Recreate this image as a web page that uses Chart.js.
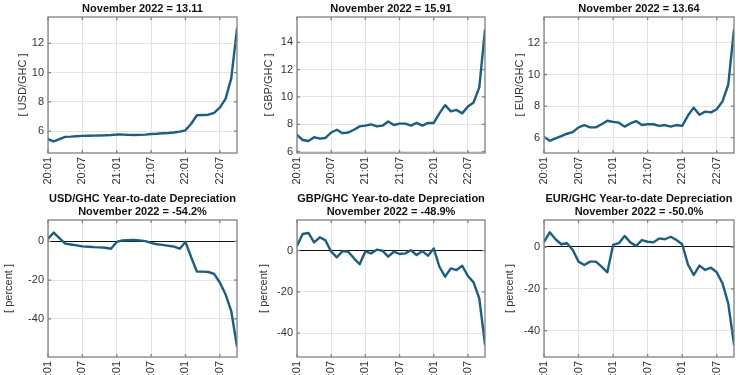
<!DOCTYPE html>
<html>
<head>
<meta charset="utf-8">
<script src="https://cdn.jsdelivr.net/npm/chart.js@4.4.0/dist/chart.umd.min.js"></script>
<style>
  html, body { margin: 0; padding: 0; background: #fff; width: 750px; height: 375px; overflow: hidden; }
  canvas { position: absolute; }
</style>
</head>
<body>
<script>
// monthly observations, Jan 2020 .. Oct 2022
const months = ['20:01','20:02','20:03','20:04','20:05','20:06','20:07','20:08','20:09','20:10','20:11','20:12',
                '21:01','21:02','21:03','21:04','21:05','21:06','21:07','21:08','21:09','21:10','21:11','21:12',
                '22:01','22:02','22:03','22:04','22:05','22:06','22:07','22:08','22:09','22:10'];

const usdRate = [5.45,5.3,5.45,5.6,5.62,5.65,5.67,5.68,5.69,5.7,5.71,5.73,
                 5.76,5.76,5.74,5.73,5.74,5.76,5.8,5.82,5.85,5.87,5.9,5.96,
                 6.05,6.5,7.08,7.1,7.12,7.25,7.6,8.2,9.6,13.0];
const gbpRate = [7.22,6.85,6.78,7.05,6.95,7.0,7.4,7.6,7.35,7.4,7.6,7.85,
                 7.9,8.0,7.85,7.9,8.2,7.95,8.05,8.05,7.9,8.1,7.9,8.1,
                 8.1,8.8,9.4,8.95,9.05,8.8,9.3,9.6,10.7,14.9];
const eurRate = [6.05,5.8,5.95,6.1,6.25,6.35,6.65,6.8,6.65,6.65,6.85,7.07,
                 7.0,6.95,6.7,6.9,7.05,6.8,6.85,6.85,6.75,6.8,6.7,6.8,
                 6.75,7.4,7.9,7.45,7.65,7.6,7.8,8.3,9.35,12.85];

const usdYtd = [1.4,4.5,1.7,-1.2,-1.6,-2.1,-2.6,-2.8,-3.0,-3.1,-3.3,-3.8,
                -0.3,0.5,0.6,0.7,0.5,0.1,-0.8,-1.5,-1.8,-2.3,-2.7,-3.8,
                -0.3,-8.2,-15.6,-15.6,-15.8,-16.8,-21.2,-27.3,-36.0,-54.2];
const gbpYtd = [2.4,8.1,8.6,4.0,6.5,5.0,-0.5,-3.2,-0.2,-0.5,-3.7,-6.6,
                -0.3,-1.3,0.5,0.0,-2.9,-0.5,-1.6,-1.3,0.2,-2.1,-0.2,-2.4,
                1.1,-7.8,-12.6,-8.6,-9.4,-7.3,-12.3,-15.4,-23.2,-45.5];
const eurYtd = [2.5,7.0,3.7,1.3,1.8,-1.4,-7.0,-8.6,-7.0,-7.0,-9.4,-12.1,
                1.0,1.8,5.3,2.2,0.5,3.3,2.5,2.2,4.1,3.7,4.9,3.3,
                1.3,-8.3,-13.4,-8.9,-11.0,-9.9,-12.1,-17.4,-27.0,-46.6];

const pairs = ['USD/GHC', 'GBP/GHC', 'EUR/GHC'];
const rateTitles = ['November 2022 = 13.11', 'November 2022 = 15.91', 'November 2022 = 13.64'];
const ytdTitles = ['November 2022 = -54.2%', 'November 2022 = -48.9%', 'November 2022 = -50.0%'];

const LINE = '#1b5e80';
const FONT = '"Liberation Sans", Arial, Helvetica, sans-serif';

// panel geometry (page px) and axis limits
const panels = [
  { col: 0, row: 0, data: usdRate, yLabel: '[ ' + pairs[0] + ' ]', lines: [rateTitles[0]], yMin: 4.5, yMax: 13.8, step: 2, plotL: 48, plotR: 237, plotT: 17, plotB: 153, labX: 23 },
  { col: 1, row: 0, data: gbpRate, yLabel: '[ ' + pairs[1] + ' ]', lines: [rateTitles[1]], yMin: 5.9, yMax: 15.85, step: 2, plotL: 297, plotR: 485, plotT: 17, plotB: 153, labX: 19 },
  { col: 2, row: 0, data: eurRate, yLabel: '[ ' + pairs[2] + ' ]', lines: [rateTitles[2]], yMin: 5.03, yMax: 13.64, step: 2, plotL: 544, plotR: 734, plotT: 17, plotB: 153, labX: 20 },
  { col: 0, row: 1, data: usdYtd, yLabel: '[ percent ]', lines: [pairs[0] + ' Year-to-date Depreciation', ytdTitles[0]], yMin: -59.6, yMax: 11, step: 20, plotL: 48, plotR: 237, plotT: 220, plotB: 357, labX: 9 },
  { col: 1, row: 1, data: gbpYtd, yLabel: '[ percent ]', lines: [pairs[1] + ' Year-to-date Depreciation', ytdTitles[1]], yMin: -51.6, yMax: 14.9, step: 20, plotL: 297, plotR: 485, plotT: 220, plotB: 357, labX: 14 },
  { col: 2, row: 1, data: eurYtd, yLabel: '[ percent ]', lines: [pairs[2] + ' Year-to-date Depreciation', ytdTitles[2]], yMin: -52.6, yMax: 12.9, step: 20, plotL: 544, plotR: 734, plotT: 220, plotB: 357, labX: 10 }
];

// canvas rows: top row starts at 0, bottom row at 185 and runs past the window
const rows = [{ top: 0, height: 188, titleY: [8.5] }, { top: 185, height: 215, titleY: [14, 27] }];

const matBox = {
  id: 'matBox',
  afterDatasetsDraw(chart, args, opts) {
    const { ctx, chartArea: a, scales: { x, y } } = chart;
    ctx.save();
    ctx.strokeStyle = '#808080';
    ctx.lineWidth = 1.3;
    ctx.strokeRect(a.left, a.top, a.right - a.left, a.bottom - a.top);
    ctx.beginPath();
    x.ticks.forEach(t => {
      const px = x.getPixelForValue(t.value);
      ctx.moveTo(px, a.bottom); ctx.lineTo(px, a.bottom - 3);
      ctx.moveTo(px, a.top); ctx.lineTo(px, a.top + 3);
    });
    y.ticks.forEach(t => {
      const py = y.getPixelForValue(t.value);
      ctx.moveTo(a.left, py); ctx.lineTo(a.left + 3, py);
      ctx.moveTo(a.right, py); ctx.lineTo(a.right - 3, py);
    });
    ctx.stroke();
    ctx.fillStyle = '#111';
    ctx.font = 'bold 11px ' + FONT;
    ctx.textAlign = 'center';
    ctx.textBaseline = 'middle';
    const lines = opts.lines;
    const ys = opts.titleY.slice(-lines.length);
    lines.forEach((l, i) => ctx.fillText(l, (a.left + a.right) / 2, ys[i]));
    ctx.restore();
  }
};

panels.forEach(p => {
  const row = rows[p.row];
  const left = p.col * 250;
  const cv = document.createElement('canvas');
  cv.width = 250; cv.height = row.height;
  cv.style.left = left + 'px'; cv.style.top = row.top + 'px';
  document.body.appendChild(cv);

  const yWidth = p.plotL - left;
  const xHeight = row.height - (p.plotB - row.top);

  new Chart(cv.getContext('2d'), {
    type: 'line',
    data: {
      datasets: [{
        data: p.data.map((v, i) => ({ x: i, y: v })),
        borderColor: LINE,
        borderWidth: 2.4,
        pointRadius: 0,
        tension: 0,
        borderJoinStyle: 'round',
        borderCapStyle: 'round'
      }]
    },
    options: {
      responsive: false,
      animation: false,
      events: [],
      layout: { padding: { left: 0, right: left + 250 - p.plotR, top: p.plotT - row.top, bottom: 0 } },
      plugins: {
        legend: { display: false },
        tooltip: { enabled: false },
        matBox: { lines: p.lines, titleY: row.titleY }
      },
      scales: {
        x: {
          type: 'linear',
          min: 0,
          max: months.length - 1,
          afterFit: s => { s.height = xHeight; },
          border: { display: false },
          grid: { color: '#e3e3e3', lineWidth: 1, drawTicks: false },
          ticks: {
            stepSize: 6,
            includeBounds: false,
            autoSkip: false,
            minRotation: 90,
            maxRotation: 90,
            padding: 4,
            color: '#333',
            font: { family: FONT, size: 11 },
            callback: v => months[v]
          }
        },
        y: {
          min: p.yMin,
          max: p.yMax,
          afterFit: s => { s.width = yWidth; },
          border: { display: false },
          grid: {
            drawTicks: false,
            lineWidth: 1,
            color: c => (p.row === 1 && c.tick && c.tick.value === 0) ? '#111' : '#e3e3e3'
          },
          ticks: {
            stepSize: p.step,
            includeBounds: false,
            padding: 4,
            color: '#333',
            font: { family: FONT, size: 11 }
          },
          title: {
            display: true,
            text: p.yLabel,
            color: '#333',
            font: { family: FONT, size: 11 },
            padding: { top: p.labX - 6.6, bottom: 0 }
          }
        }
      }
    },
    plugins: [matBox]
  });
});
</script>
</body>
</html>
